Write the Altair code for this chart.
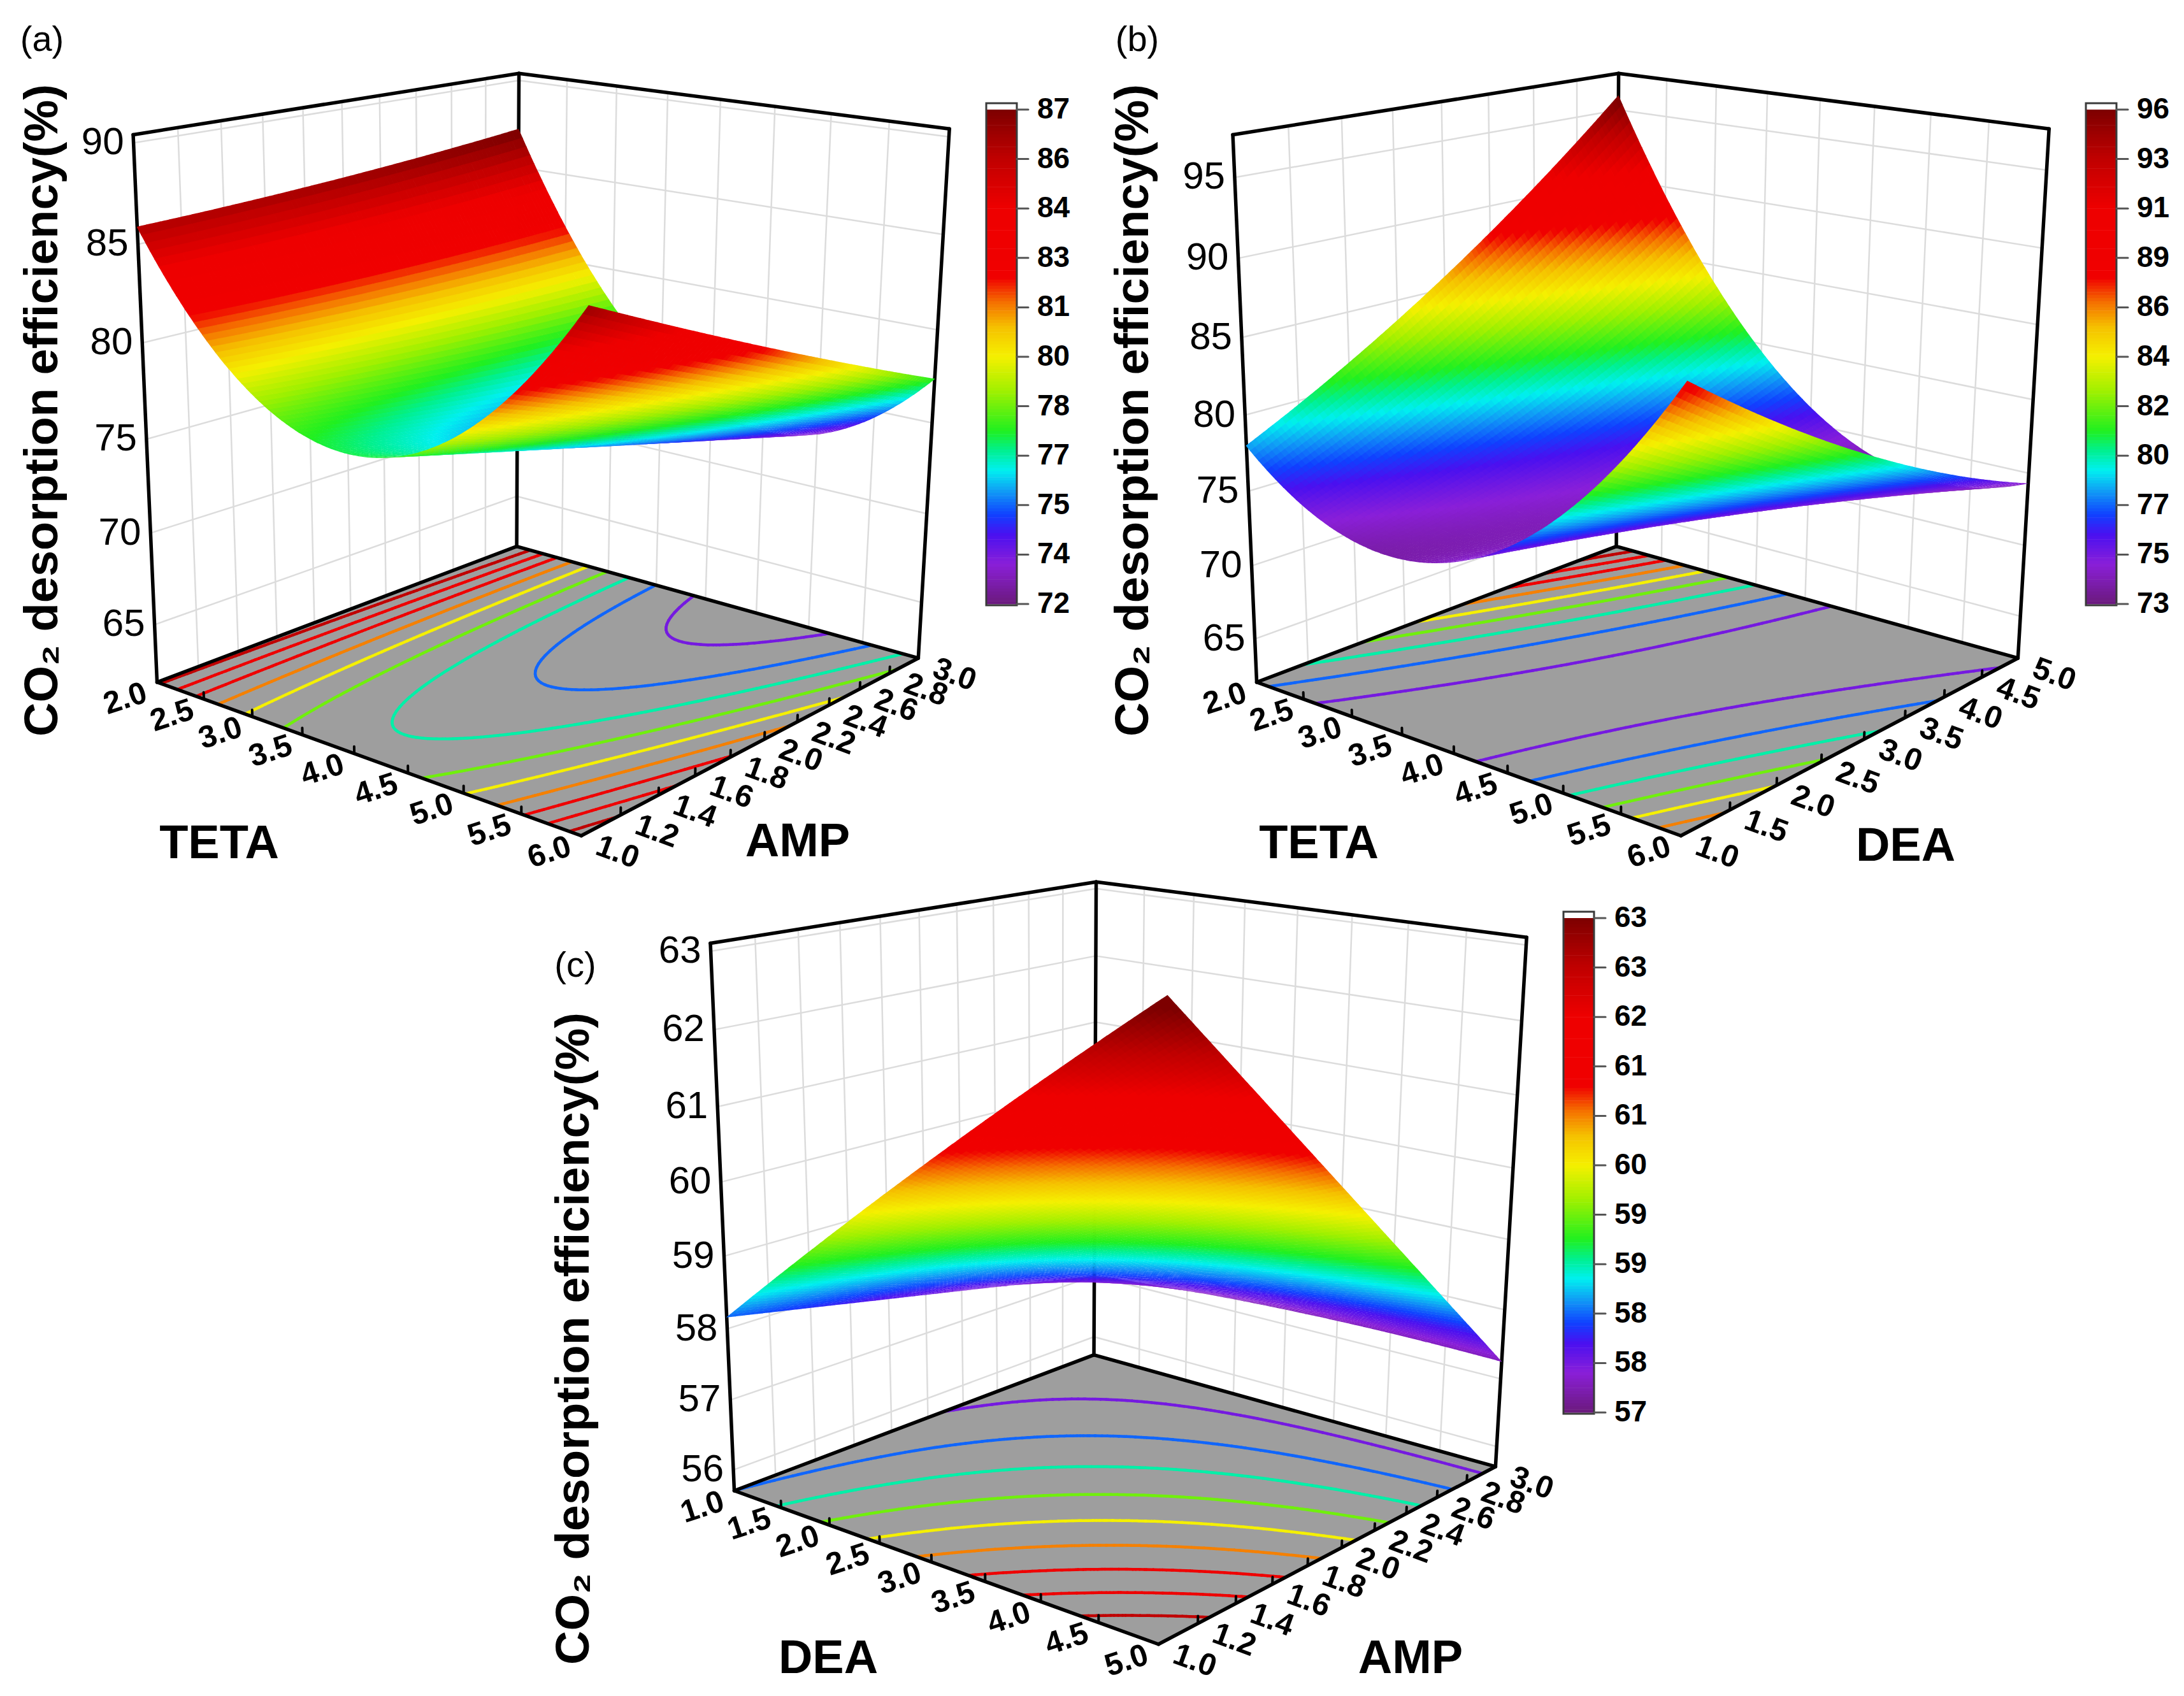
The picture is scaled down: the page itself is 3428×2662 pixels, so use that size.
import numpy as np
import pandas as pd
import altair as alt

alt.data_transformers.disable_max_rows()

# factor names, ranges and tick values
names_a = ["TETA", "AMP"]
names_b = ["TETA", "DEA"]
names_c = ["DEA", "AMP"]
teta_ticks = [2.0, 2.5, 3.0, 3.5, 4.0, 4.5, 5.0, 5.5, 6.0]
amp_ticks = [1.0, 1.2, 1.4, 1.6, 1.8, 2.0, 2.2, 2.4, 2.6, 2.8, 3.0]
dea_ticks = [1.0, 1.5, 2.0, 2.5, 3.0, 3.5, 4.0, 4.5, 5.0]

# response (z) axis ranges and ticks
zlim_a = [61.8, 90.4]
zlim_b = [62.0, 97.6]
zlim_c = [55.7, 63.1]
zticks_a = [65, 70, 75, 80, 85, 90]
zticks_b = [65, 70, 75, 80, 85, 90, 95]
zticks_c = [56, 57, 58, 59, 60, 61, 62, 63]

# quadratic response surface, coded units: b0, b1, b2, b11, b22, b12
coef_a = [74.9, -2.32, -1.92, 9.1, 0.2, -2.59]
coef_b = [74.02, -2.8, 0.95, 8.98, 1.2, -8.05]
coef_c = [59.045, 1.365, -1.82, -0.1, 0.0, -1.24]

# colour bars
cbar_a = [72.0, 87.0]
cbar_b = [72.6, 95.7]
cbar_c = [56.9, 63.2]
cbar_labels_a = ["72", "74", "75", "77", "78", "80", "81", "83", "84", "86", "87"]
cbar_labels_b = ["73", "75", "77", "80", "82", "84", "86", "89", "91", "93", "96"]
cbar_labels_c = ["57", "58", "58", "59", "59", "60", "61", "61", "62", "63", "63"]

# origin-like rainbow palette
rainbow_pos = [0.0, 0.08, 0.14, 0.18, 0.23, 0.27, 0.31, 0.35, 0.43, 0.5, 0.56, 0.61, 0.66, 0.8, 0.9, 1.0]
rainbow_col = ["#6b1a7c", "#8a1fd8", "#4a10f0", "#1040ff", "#10a0f5", "#00f0f0", "#00f090",
               "#20f020", "#a0f000", "#f5f000", "#f5c000", "#f57000", "#f00000", "#ee0000",
               "#c00000", "#7d0000"]

# ---- view geometry: box corners (u, v, w) as seen in panel (a), pixels ----
box3 = [(-1, -1, 0), (-1, -1, 1), (-1, 1, 0), (-1, 1, 1), (1, 1, 0), (1, 1, 1), (1, -1, 0)]
box2 = [(245, 1070), (210, 212), (813, 858), (813, 115), (1440, 1033), (1491, 202), (913, 1312)]

FONT = "Liberation Sans, Arial, sans-serif"
W, H = 3412, 2646


def model(c, u, v):
    return c[0] + c[1] * u + c[2] * v + c[3] * u * u + c[4] * v * v + c[5] * u * v


def fit_camera(p3, p2):
    p2 = np.asarray(p2, float)
    m = p2.mean(axis=0)
    s = np.sqrt(2) / np.mean(np.linalg.norm(p2 - m, axis=1))
    T = np.array([[s, 0, -s * m[0]], [0, s, -s * m[1]], [0, 0, 1]])
    q = (p2 - m) * s
    rows = []
    for (X, Y, Z), (x, y) in zip(p3, q):
        rows.append([X, Y, Z, 1, 0, 0, 0, 0, -x * X, -x * Y, -x * Z, -x])
        rows.append([0, 0, 0, 0, X, Y, Z, 1, -y * X, -y * Y, -y * Z, -y])
    P = np.linalg.svd(np.array(rows, float))[2][-1].reshape(3, 4)
    P = np.linalg.inv(T) @ P
    if (P @ np.array([0, 0, 0.5, 1]))[2] < 0:
        P = -P
    return P


CAM = fit_camera(box3, box2)


def project(u, v, w, off):
    u, v, w = np.broadcast_arrays(np.asarray(u, float), np.asarray(v, float), np.asarray(w, float))
    h = [CAM[k, 0] * u + CAM[k, 1] * v + CAM[k, 2] * w + CAM[k, 3] for k in range(3)]
    return h[0] / h[2] + off[0], h[1] / h[2] + off[1], h[2]


def coded(val, rng):
    return (np.asarray(val, float) - rng[0]) / (rng[1] - rng[0]) * 2 - 1


def cscale(lim):
    lo, hi = lim
    return alt.Scale(domain=[lo + f * (hi - lo) for f in rainbow_pos], range=rainbow_col,
                     interpolate="rgb", clamp=True)


def quad_path(xs, ys, grow=1.0):
    cx, cy = np.mean(xs), np.mean(ys)
    pts = ["%.1f,%.1f" % ((x - cx) * grow, (y - cy) * grow) for x, y in zip(xs, ys)]
    return cx, cy, "M" + "L".join(pts) + "Z"


def segs3(seg_list, off):
    rows = []
    for a, b in seg_list:
        x1, y1, _ = project(*a, off)
        x2, y2, _ = project(*b, off)
        rows.append((float(x1), float(y1), float(x2), float(y2)))
    return pd.DataFrame(rows, columns=["px", "py", "px2", "py2"])


def contours(coef, levels, off, n=110):
    g = np.linspace(-1, 1, n + 1)
    U, V = np.meshgrid(g, g, indexing="ij")
    Z = model(coef, U, V)
    c4 = np.stack([Z[:-1, :-1], Z[1:, :-1], Z[1:, 1:], Z[:-1, 1:]])
    cmin, cmax = c4.min(axis=0), c4.max(axis=0)
    rows = []
    for L in levels:
        for i, j in zip(*np.where((cmin < L) & (cmax > L))):
            cu = [g[i], g[i + 1], g[i + 1], g[i]]
            cv = [g[j], g[j], g[j + 1], g[j + 1]]
            cz = [Z[i, j], Z[i + 1, j], Z[i + 1, j + 1], Z[i, j + 1]]
            pts = []
            for k in range(4):
                k2 = (k + 1) % 4
                if (cz[k] - L) * (cz[k2] - L) < 0:
                    t = (L - cz[k]) / (cz[k2] - cz[k])
                    pts.append((cu[k] + t * (cu[k2] - cu[k]), cv[k] + t * (cv[k2] - cv[k])))
            for p in range(0, len(pts) - 1, 2):
                x1, y1, _ = project(pts[p][0], pts[p][1], 0, off)
                x2, y2, _ = project(pts[p + 1][0], pts[p + 1][1], 0, off)
                rows.append((float(x1), float(y1), float(x2), float(y2), L))
    return pd.DataFrame(rows, columns=["px", "py", "px2", "py2", "z"])


def surface(coef, zlim, off, n=96):
    g = np.linspace(-1, 1, n + 1)
    U, V = np.meshgrid(g, g, indexing="ij")
    Wz = (model(coef, U, V) - zlim[0]) / (zlim[1] - zlim[0])
    X, Y, D = project(U, V, Wz, off)
    rows = []
    for i in range(n):
        for j in range(n):
            idx = [(i, j), (i + 1, j), (i + 1, j + 1), (i, j + 1)]
            cx, cy, path = quad_path([X[a] for a in idx], [Y[a] for a in idx], 1.12)
            zc = model(coef, (g[i] + g[i + 1]) / 2, (g[j] + g[j + 1]) / 2)
            rows.append((round(cx, 1), round(cy, 1), path, round(zc, 3), np.mean([D[a] for a in idx])))
    df = pd.DataFrame(rows, columns=["px", "py", "path", "z", "depth"])
    df = df.sort_values("depth", ascending=False).reset_index(drop=True)
    df["k"] = np.arange(len(df))
    return df.drop(columns="depth")


XE = alt.X("px:Q", scale=alt.Scale(domain=[8, 8 + W], nice=False, zero=False), axis=None)
YE = alt.Y("py:Q", scale=alt.Scale(domain=[8, 8 + H], nice=False, zero=False, reverse=True), axis=None)


def rules(df, **kw):
    return alt.Chart(df).mark_rule(strokeCap="round", **kw).encode(
        x=XE, y=YE, x2=alt.X2("px2:Q"), y2=alt.Y2("py2:Q"))


def texts(df, weight="bold", **kw):
    return alt.Chart(df).mark_text(font=FONT, fontWeight=weight, baseline="middle", **kw).encode(
        x=XE, y=YE, text="t:N")


def panel(key, names, ticks1, ticks2, zlim, zticks, coef, cbar, cbar_labels, off, spots):
    layers = []
    r1 = [ticks1[0], ticks1[-1]]
    r2 = [ticks2[0], ticks2[-1]]
    wz = lambda z: (z - zlim[0]) / (zlim[1] - zlim[0])
    cs = cscale(cbar)

    # grid on the two back walls
    grid = []
    for v in coded(ticks2[1:-1], r2):
        grid.append(((-1, v, 0), (-1, v, 1)))
    for u in coded(ticks1[1:-1], r1):
        grid.append(((u, 1, 0), (u, 1, 1)))
    for z in zticks:
        grid.append(((-1, -1, wz(z)), (-1, 1, wz(z))))
        grid.append(((-1, 1, wz(z)), (1, 1, wz(z))))
    layers.append(rules(segs3(grid, off), color="#dcdcdc", strokeWidth=2.5))

    # gray floor
    fx, fy, _ = project([-1, 1, 1, -1], [-1, -1, 1, 1], 0, off)
    cx, cy, path = quad_path(fx, fy)
    floor = pd.DataFrame({"px": [cx], "py": [cy], "path": [path]})
    layers.append(alt.Chart(floor).mark_point(filled=True, opacity=1, color="#9e9e9e").encode(
        x=XE, y=YE, shape=alt.Shape("path:N", scale=None), size=alt.value(4)))

    # floor contours
    lo, hi = cbar
    levels = [lo + k * (hi - lo) / 10 for k in range(1, 10)]
    layers.append(rules(contours(coef, levels, off), strokeWidth=4.5).encode(
        color=alt.Color("z:Q", scale=cs, legend=None)))

    # box frame
    box = [((-1, -1, 0), (-1, -1, 1)), ((-1, 1, 0), (-1, 1, 1)), ((1, 1, 0), (1, 1, 1)),
           ((-1, -1, 1), (-1, 1, 1)), ((-1, 1, 1), (1, 1, 1)),
           ((-1, -1, 0), (-1, 1, 0)), ((-1, 1, 0), (1, 1, 0)),
           ((-1, -1, 0), (1, -1, 0)), ((1, -1, 0), (1, 1, 0))]
    layers.append(rules(segs3(box, off), color="black", strokeWidth=5.5))
    tk = [((u, -1, 0), (u, -1, 0.013)) for u in coded(ticks1[1:-1], r1)]
    tk += [((1, v, 0), (1, v, 0.013)) for v in coded(ticks2[1:-1], r2)]
    layers.append(rules(segs3(tk, off), color="black", strokeWidth=4))

    # response surface
    layers.append(alt.Chart(surface(coef, zlim, off)).mark_point(filled=True, opacity=1).encode(
        x=XE, y=YE, shape=alt.Shape("path:N", scale=None), size=alt.value(4),
        color=alt.Color("z:Q", scale=cs, legend=None), order=alt.Order("k:Q")))

    # z tick labels
    zx, zy, _ = project(-1, -1, np.array([wz(z) for z in zticks]), off)
    zl = pd.DataFrame({"px": zx - 15, "py": zy, "t": [str(z) for z in zticks]})
    layers.append(texts(zl, weight="normal", align="right", fontSize=60))

    # floor tick labels
    ax, ay, _ = project(coded(ticks1, r1), -1, 0, off)
    l1 = pd.DataFrame({"px": ax - 50, "py": ay + 26, "t": ["%.1f" % t for t in ticks1]})
    layers.append(texts(l1, align="center", fontSize=49, angle=342))
    bx, by, _ = project(1, coded(ticks2, r2), 0, off)
    l2 = pd.DataFrame({"px": bx + 57, "py": by + 26, "t": ["%.1f" % t for t in ticks2]})
    layers.append(texts(l2, align="center", fontSize=49, angle=20))

    # titles
    tt = pd.DataFrame({"px": [spots["t1"][0], spots["t2"][0]], "py": [spots["t1"][1], spots["t2"][1]],
                       "t": names})
    layers.append(texts(tt, align="center", fontSize=74))
    yt = pd.DataFrame({"px": [spots["ytitle"][0]], "py": [spots["ytitle"][1]],
                       "t": ["CO\u2082 desorption efficiency(%)"]})
    layers.append(texts(yt, align="center", fontSize=74, angle=270))
    pl = pd.DataFrame({"px": [spots["label"][0]], "py": [spots["label"][1]], "t": ["(%s)" % key]})
    layers.append(texts(pl, weight="normal", align="center", fontSize=56))

    # colour bar
    x0, x1, y0, y1 = spots["cbar"]
    n = 160
    edges = np.linspace(y0, y1, n + 1)
    bar = pd.DataFrame({"px": x0, "px2": x1, "py": edges[:-1], "py2": edges[1:] + 0.6,
                        "z": hi - (np.arange(n) + 0.5) / n * (hi - lo)})
    layers.append(alt.Chart(bar).mark_rect().encode(
        x=XE, y=YE, x2=alt.X2("px2:Q"), y2=alt.Y2("py2:Q"),
        color=alt.Color("z:Q", scale=cs, legend=None)))
    frame = pd.DataFrame({"px": [x0], "px2": [x1], "py": [y0 - 10], "py2": [y1 + 2]})
    layers.append(alt.Chart(frame).mark_rect(filled=False, stroke="#3a3a3a", strokeWidth=3).encode(
        x=XE, y=YE, x2=alt.X2("px2:Q"), y2=alt.Y2("py2:Q")))
    vals = [lo + k * (hi - lo) / 10 for k in range(11)]
    ly = [y0 + (hi - v) / (hi - lo) * (y1 - y0) for v in vals]
    ct = pd.DataFrame({"px": x1, "px2": x1 + 18, "py": ly, "py2": ly})
    layers.append(rules(ct, color="#555555", strokeWidth=3))
    cl = pd.DataFrame({"px": x1 + 32, "py": ly, "t": cbar_labels})
    layers.append(texts(cl, align="left", fontSize=46))
    return layers


layers = []
layers += panel("a", names_a, teta_ticks, amp_ticks, zlim_a, zticks_a, coef_a, cbar_a, cbar_labels_a, (0, 0),
                {"t1": (344, 1325), "t2": (1252, 1322), "ytitle": (68, 644), "label": (66, 63),
                 "cbar": (1548, 1596, 172, 948)})
layers += panel("b", names_b, teta_ticks, dea_ticks, zlim_b, zticks_b, coef_b, cbar_b, cbar_labels_b, (1726, 0),
                {"t1": (2070, 1325), "t2": (2991, 1329), "ytitle": (1780, 644), "label": (1785, 63),
                 "cbar": (3274, 3322, 172, 948)})
layers += panel("c", names_c, dea_ticks, amp_ticks, zlim_c, zticks_c, coef_c, cbar_c, cbar_labels_c, (906, 1269),
                {"t1": (1300, 2604), "t2": (2214, 2604), "ytitle": (902, 2101), "label": (903, 1516),
                 "cbar": (2454, 2502, 1441, 2217)})

chart = alt.layer(*layers).resolve_scale(color="independent").properties(
    width=W, height=H, padding=0, autosize=alt.AutoSizeParams(type="none"),
    background="white").configure_view(stroke=None)

chart.save("out.html", embed_options={"renderer": "svg", "actions": False})
